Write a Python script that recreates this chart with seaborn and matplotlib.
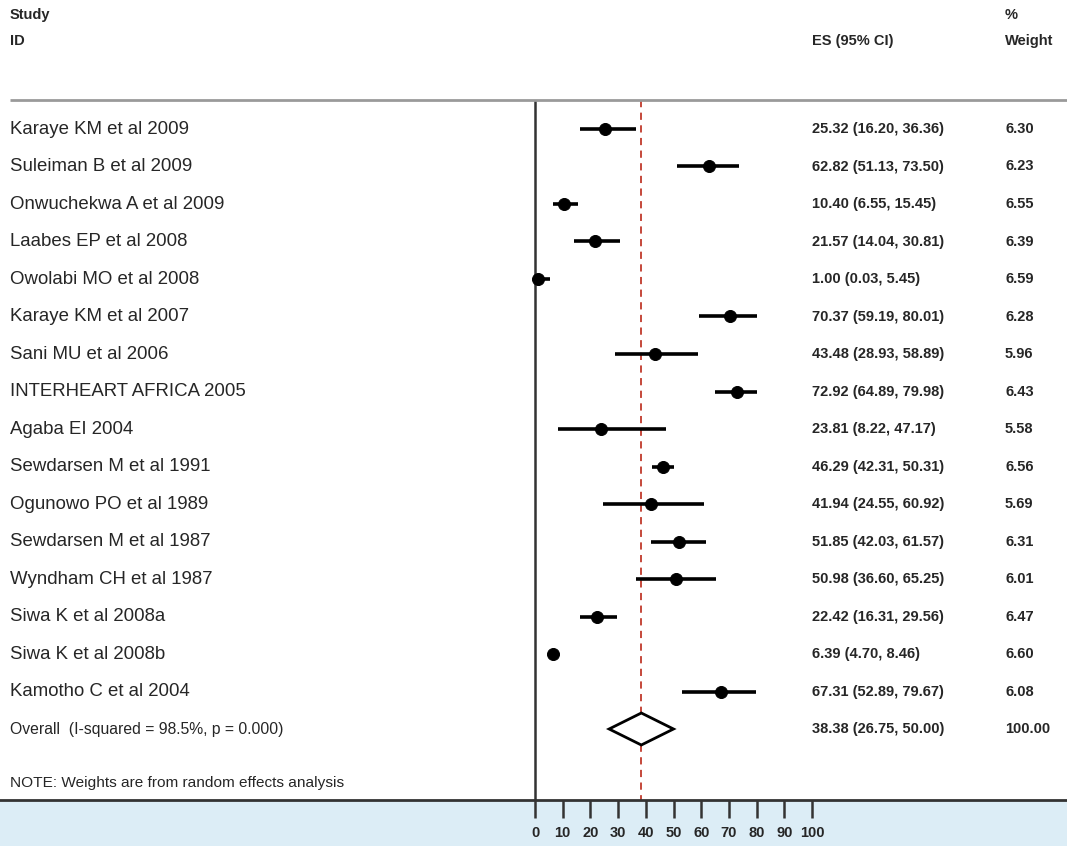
import numpy as np
import pandas as pd
import matplotlib
matplotlib.use("Agg")
import matplotlib.pyplot as plt
import seaborn as sns
from matplotlib.patches import Rectangle

studies = ["Karaye KM et al 2009", "Suleiman B et al 2009", "Onwuchekwa A et al 2009",
           "Laabes EP et al 2008", "Owolabi MO et al 2008", "Karaye KM et al 2007",
           "Sani MU et al 2006", "INTERHEART AFRICA 2005", "Agaba EI 2004",
           "Sewdarsen M et al 1991", "Ogunowo PO et al 1989", "Sewdarsen M et al 1987",
           "Wyndham CH et al 1987", "Siwa K et al 2008a", "Siwa K et al 2008b",
           "Kamotho C et al 2004"]
es = [25.32, 62.82, 10.40, 21.57, 1.00, 70.37, 43.48, 72.92, 23.81,
      46.29, 41.94, 51.85, 50.98, 22.42, 6.39, 67.31]
lower = [16.20, 51.13, 6.55, 14.04, 0.03, 59.19, 28.93, 64.89, 8.22,
         42.31, 24.55, 42.03, 36.60, 16.31, 4.70, 52.89]
upper = [36.36, 73.50, 15.45, 30.81, 5.45, 80.01, 58.89, 79.98, 47.17,
         50.31, 60.92, 61.57, 65.25, 29.56, 8.46, 79.67]
weights = [6.30, 6.23, 6.55, 6.39, 6.59, 6.28, 5.96, 6.43, 5.58,
           6.56, 5.69, 6.31, 6.01, 6.47, 6.60, 6.08]

overall_label = "Overall  (I-squared = 98.5%, p = 0.000)"
overall_es, overall_lo, overall_hi = 38.38, 26.75, 50.00
note = "NOTE: Weights are from random effects analysis"
xticks = [0, 10, 20, 30, 40, 50, 60, 70, 80, 90, 100]

sns.set_style("white")
plt.rcParams['font.family'] = ['Liberation Sans', 'DejaVu Sans']

W, H = 1067, 846
fig = plt.figure(figsize=(W / 100, H / 100), dpi=100)
fig.patch.set_facecolor("white")

# light blue band under the axis
band = Rectangle((0, 0), 1, 46 / H, transform=fig.transFigure,
                 facecolor="#dcedf6", edgecolor="none", zorder=-5)
fig.patches.append(band)

ax = fig.add_axes([0, 46 / H, 1, (H - 46) / H])
ax.set_facecolor("white")
# x: 0 -> 535 px, 100 -> 812 px
scale = (812 - 535) / 100
ax.set_xlim(-535 / scale, (W - 535) / scale)
ax.set_ylim(800, 0)

row_y = 129 + 37.5 * np.arange(len(studies) + 1)

df = pd.DataFrame({"study": studies, "es": es, "lo": lower, "hi": upper,
                   "w": weights, "y": row_y[:len(studies)]})

ax.hlines(df["y"], df["lo"], df["hi"], color="black", lw=2.6, zorder=3)
sns.scatterplot(data=df, x="es", y="y", color="black", s=75, marker="o",
                edgecolor="black", ax=ax, zorder=4, legend=False)

# overall diamond
yo = row_y[-1]
ax.fill([overall_lo, overall_es, overall_hi, overall_es],
        [yo, yo - 16, yo, yo + 16], facecolor="white", edgecolor="black", lw=2, zorder=3)

# reference lines
ax.vlines(0, 100, 800, color="#333333", lw=1.8, zorder=2)
ax.vlines(overall_es, 100, 800, color="#c0392b", lw=1.3, linestyles=(0, (4, 3)), zorder=2)
ax.hlines(100, -535 / scale + 10 / scale, (W - 535) / scale, color="#9a9a9a", lw=2)

fs = 10.5
tx = lambda px: -535 / scale + px / scale
ax.text(tx(10), 15, "Study", fontsize=fs, fontweight="bold", va="center")
ax.text(tx(10), 41, "ID", fontsize=fs, fontweight="bold", va="center")
ax.text(tx(812), 41, "ES (95% CI)", fontsize=fs, fontweight="bold", va="center")
ax.text(tx(1005), 15, "%", fontsize=fs, fontweight="bold", va="center")
ax.text(tx(1005), 41, "Weight", fontsize=fs, fontweight="bold", va="center")

for i, s in enumerate(studies):
    y = row_y[i]
    ax.text(tx(10), y, s, fontsize=13.4, va="center")
    ax.text(tx(812), y, f"{es[i]:.2f} ({lower[i]:.2f}, {upper[i]:.2f})",
            fontsize=fs, fontweight="bold", va="center")
    ax.text(tx(1005), y, f"{weights[i]:.2f}", fontsize=fs, fontweight="bold", va="center")

ax.text(tx(10), yo, overall_label, fontsize=11.3, va="center")
ax.text(tx(812), yo, f"{overall_es:.2f} ({overall_lo:.2f}, {overall_hi:.2f})",
        fontsize=fs, fontweight="bold", va="center")
ax.text(tx(1005), yo, "100.00", fontsize=fs, fontweight="bold", va="center")
ax.text(tx(10), 783, note, fontsize=11.1, va="center")

for side in ["top", "left", "right"]:
    ax.spines[side].set_visible(False)
ax.spines["bottom"].set_color("#333333")
ax.spines["bottom"].set_linewidth(2)
ax.set_yticks([])
ax.set_xticks(xticks)
ax.set_xticklabels([str(t) for t in xticks], fontsize=fs, fontweight="bold")
ax.tick_params(axis="x", bottom=True, direction="out", length=13, width=1.8,
               color="#333333", pad=6)
ax.set_xlabel("")
ax.set_ylabel("")

fig.savefig("out.png", dpi=100)
